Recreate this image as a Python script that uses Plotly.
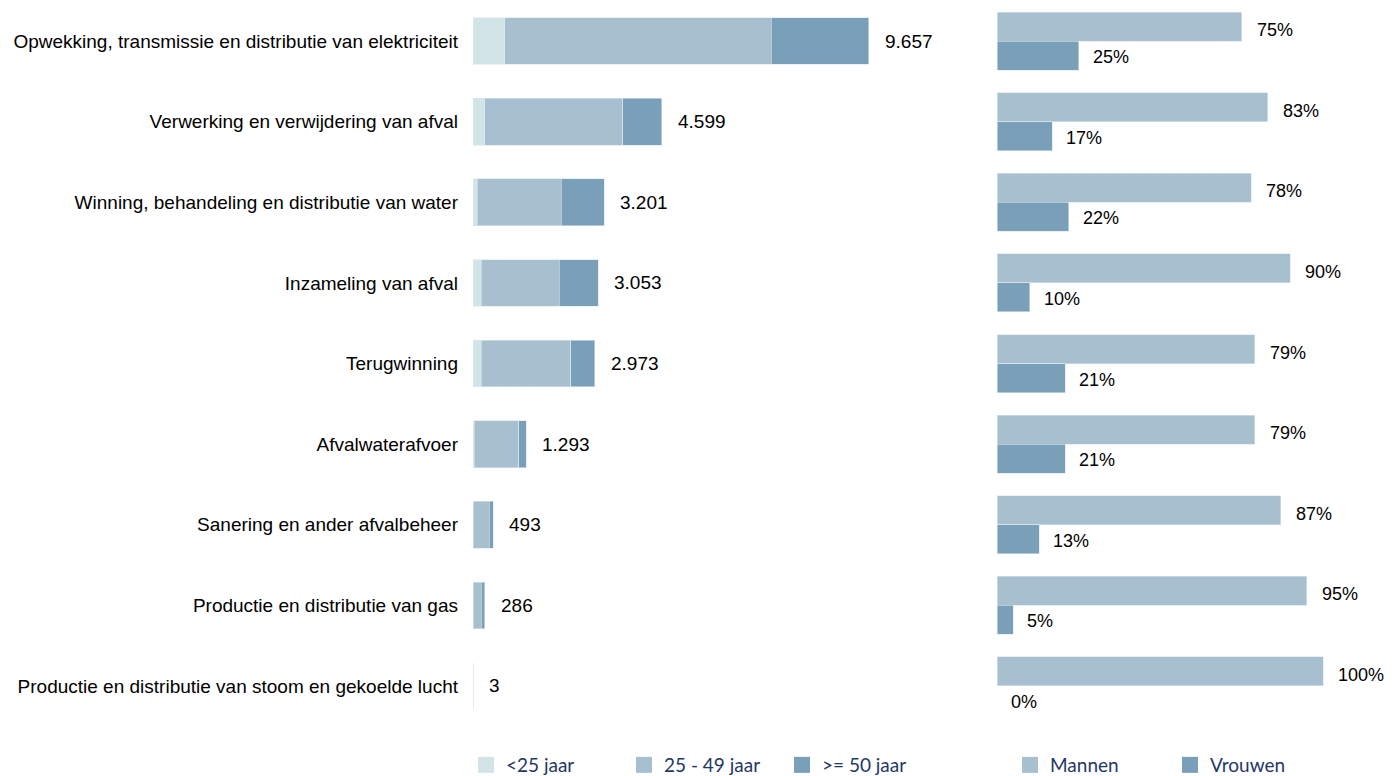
import plotly.graph_objects as go

categories = [
    "Opwekking, transmissie en distributie van elektriciteit",
    "Verwerking en verwijdering van afval",
    "Winning, behandeling en distributie van water",
    "Inzameling van afval",
    "Terugwinning",
    "Afvalwaterafvoer",
    "Sanering en ander afvalbeheer",
    "Productie en distributie van gas",
    "Productie en distributie van stoom en gekoelde lucht",
]
age_lt25 = [780, 290, 105, 195, 195, 35, 8, 5, 0]
age_25_49 = [6490, 3365, 2050, 1905, 2195, 1085, 390, 200, 3]
age_ge50 = [2387, 944, 1046, 953, 583, 173, 95, 81, 0]
totals = [9657, 4599, 3201, 3053, 2973, 1293, 493, 286, 3]
men_pct = [75, 83, 78, 90, 79, 79, 87, 95, 100]
women_pct = [25, 17, 22, 10, 21, 21, 13, 5, 0]

age_names = ["<25 jaar", "25 - 49 jaar", ">= 50 jaar"]
sex_names = ["Mannen", "Vrouwen"]

C_LIGHT = "#D3E4E9"
C_MID = "#A7BFCF"
C_DARK = "#7A9FB8"
EDGE = "#DCE7EE"
LEG_FONT = dict(family="Lato, Open Sans", size=19, color="#1F3864")
TXT = "Liberation Sans, Arial"

fig = go.Figure()

for name, vals, col in zip(age_names, [age_lt25, age_25_49, age_ge50], [C_LIGHT, C_MID, C_DARK]):
    fig.add_trace(go.Bar(
        y=categories, x=vals, orientation="h", name=name, width=0.58,
        marker=dict(color=col, line=dict(color=EDGE, width=[0.6 if v else 0 for v in vals])),
        xaxis="x", yaxis="y", showlegend=False,
    ))
    fig.add_trace(go.Scatter(
        x=[None], y=[None], mode="markers", name=name, xaxis="x", yaxis="y",
        marker=dict(symbol="square", size=16, color=col), legend="legend",
    ))

for name, vals, col, off in zip(sex_names, [men_pct, women_pct], [C_MID, C_DARK], [-0.36, 0.0]):
    fig.add_trace(go.Bar(
        y=categories, x=vals, orientation="h", name=name, width=0.36, offset=off,
        marker=dict(color=col, line=dict(color=EDGE, width=[0.6 if v else 0 for v in vals])),
        xaxis="x2", yaxis="y2", showlegend=False, offsetgroup=name,
    ))
    fig.add_trace(go.Scatter(
        x=[None], y=[None], mode="markers", name=name, xaxis="x2", yaxis="y2",
        marker=dict(symbol="square", size=16, color=col), legend="legend2",
    ))

annotations = []
for cat, t in zip(categories, totals):
    annotations.append(dict(
        x=t, y=cat, xref="x", yref="y", text=f"{t:,}".replace(",", "."),
        showarrow=False, xanchor="left", xshift=14,
        font=dict(family=TXT, size=19, color="#000"),
    ))
for i, cat in enumerate(categories):
    annotations.append(dict(
        x=men_pct[i], y=cat, xref="x2", yref="y2", text=f"{men_pct[i]}%",
        showarrow=False, xanchor="left", xshift=13, yshift=11,
        font=dict(family=TXT, size=18, color="#000"),
    ))
    annotations.append(dict(
        x=women_pct[i], y=cat, xref="x2", yref="y2", text=f"{women_pct[i]}%",
        showarrow=False, xanchor="left", xshift=12, yshift=-16,
        font=dict(family=TXT, size=18, color="#000"),
    ))

W, H = 1399, 776
ydom = [1 - 718.3 / H, 1.0]
yrange = [8.5, -0.41]

fig.update_layout(
    width=W, height=H,
    margin=dict(l=0, r=0, t=0, b=0),
    paper_bgcolor="white", plot_bgcolor="white",
    barmode="stack",
    font=dict(family=TXT, size=19, color="#000"),
    xaxis=dict(domain=[465 / W, (465 + 492) / W], range=[0, 12000],
               showgrid=False, zeroline=False, showticklabels=False, showline=False),
    yaxis=dict(domain=ydom, type="category", range=yrange,
               showgrid=False, zeroline=False, showline=False, ticks="",
               ticklabelstandoff=14,
               tickfont=dict(family=TXT, size=19, color="#000")),
    xaxis2=dict(domain=[989 / W, (989 + 391.2) / W], range=[0, 120],
                showgrid=False, zeroline=False, showticklabels=False, showline=False),
    yaxis2=dict(domain=ydom, type="category", range=yrange, anchor="x2",
                showgrid=False, zeroline=False, showline=False, showticklabels=False,
                ticks=""),
    annotations=annotations,
    legend=dict(orientation="h", x=458 / W, y=19 / H, xanchor="left", yanchor="middle",
                traceorder="normal", entrywidth=113, entrywidthmode="pixels",
                itemsizing="trace", font=LEG_FONT, bgcolor="rgba(0,0,0,0)"),
    legend2=dict(orientation="h", x=1002 / W, y=19 / H, xanchor="left", yanchor="middle",
                 traceorder="normal", entrywidth=115, entrywidthmode="pixels",
                 itemsizing="trace", font=LEG_FONT, bgcolor="rgba(0,0,0,0)"),
)

fig.write_html("out.html")
